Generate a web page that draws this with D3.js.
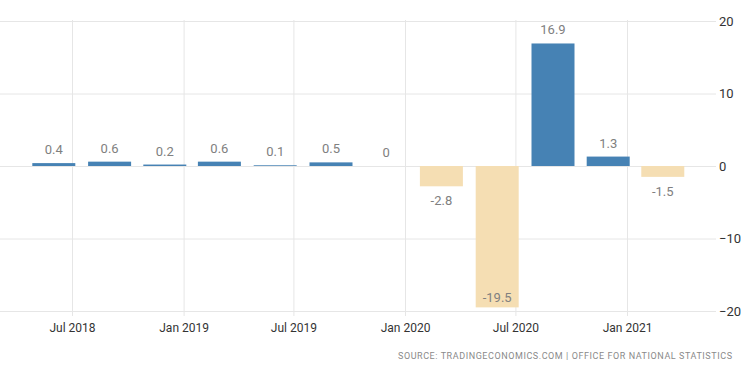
<!DOCTYPE html>
<html>
<head>
<meta charset="utf-8">
<script src="https://cdn.jsdelivr.net/npm/d3@7"></script>
<style>
  body { margin: 0; background: #fff; }
  text { font-family: Roboto, "Open Sans", sans-serif; }
</style>
</head>
<body>
<script>
var w = 750;
var h = 373;

// quarterly GDP growth, bars sit on the last month of each quarter
var quarters = ["2018-06-01", "2018-09-01", "2018-12-01", "2019-03-01",
                "2019-06-01", "2019-09-01", "2019-12-01", "2020-03-01",
                "2020-06-01", "2020-09-01", "2020-12-01", "2021-03-01"];
var values = [0.4, 0.6, 0.2, 0.6, 0.1, 0.5, 0, -2.8, -19.5, 16.9, 1.3, -1.5];

var xTicks = ["2018-07-01", "2019-01-01", "2019-07-01", "2020-01-01", "2020-07-01", "2021-01-01"];
var yTicks = [-20, -10, 0, 10, 20];
var source = "SOURCE: TRADINGECONOMICS.COM | OFFICE FOR NATIONAL STATISTICS";

var parse = d3.timeParse("%Y-%m-%d");
var data = quarters.map(function(q, i){
    return { date: parse(q), value: values[i] };
});

/*
    Scales: time along x, growth % along y.
*/
var xScale = d3.scaleTime()
    .domain([parse("2018-07-01"), parse("2021-01-01")])
    .range([72, 627]);

var yScale = d3.scaleLinear()
    .domain([-20, 20])
    .range([311, 21]);

var plotRight = 716;
var barWidth = 43;

var svg = d3.select("body")
    .append("svg")
    .attr("width", w)
    .attr("height", h);

// horizontal grid + right side labels
var yAxis = d3.axisRight(yScale)
    .tickValues(yTicks)
    .tickSize(plotRight)
    .tickPadding(3)
    .tickFormat(d3.format("d"));

var gy = svg.append("g").call(yAxis);
gy.select(".domain").remove();
gy.selectAll("line").attr("stroke", "#e6e6e6");
gy.selectAll("text")
    .attr("fill", "#333")
    .style("font-size", "13px");

// vertical grid + date labels
var xAxis = d3.axisBottom(xScale)
    .tickValues(xTicks.map(parse))
    .tickSize(296)
    .tickPadding(7)
    .tickFormat(d3.timeFormat("%b %Y"));

var gx = svg.append("g")
    .attr("transform", "translate(0,20)")
    .call(xAxis);
gx.select(".domain").remove();
gx.selectAll("line").attr("stroke", "#e6e6e6");
gx.selectAll("text")
    .attr("fill", "#333")
    .style("font-size", "12px");

// bars
svg.selectAll("rect.bar")
    .data(data)
    .enter()
    .append("rect")
    .attr("class", "bar")
    .attr("x", function(d){ return xScale(d.date) - barWidth / 2; })
    .attr("y", function(d){ return yScale(Math.max(0, d.value)); })
    .attr("width", barWidth)
    .attr("height", function(d){ return Math.abs(yScale(d.value) - yScale(0)); })
    .attr("fill", function(d){
        if(d.value >= 0){
            return "#4682b4";
        }else{
            return "#f5deb3";
        }
    });

// value labels
svg.selectAll("text.val")
    .data(data)
    .enter()
    .append("text")
    .attr("class", "val")
    .attr("x", function(d){ return xScale(d.date); })
    .attr("y", function(d){
        if(d.value >= 0){
            return yScale(d.value) - 9;
        }
        var y = yScale(d.value) + 19;
        if(y > 308){
            // no room under the bar, keep it inside
            y = yScale(d.value) - 5;
        }
        return y;
    })
    .attr("text-anchor", "middle")
    .attr("fill", "#808080")
    .style("font-size", "13px")
    .text(function(d){ return d.value; });

// source line
svg.append("text")
    .attr("x", 732)
    .attr("y", 359)
    .attr("text-anchor", "end")
    .attr("textLength", 334)
    .attr("lengthAdjust", "spacing")
    .attr("fill", "#8a8a8a")
    .style("font-size", "9px")
    .text(source);
</script>
</body>
</html>
